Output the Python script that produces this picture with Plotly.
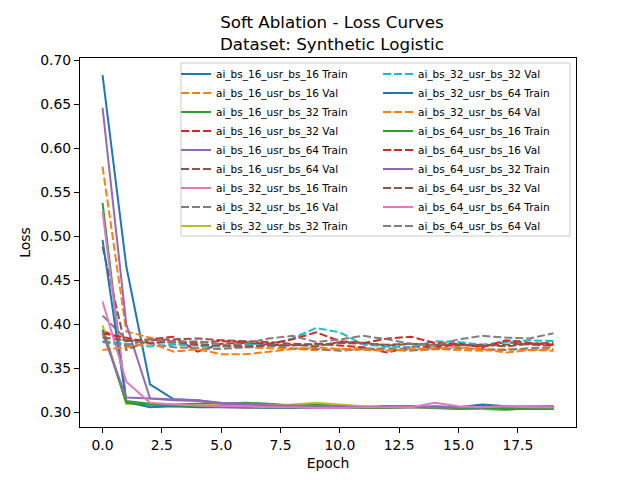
import plotly.graph_objects as go

epochs = list(range(20))

# series names, in the order they were plotted
names = [
    "ai_bs_16_usr_bs_16 Train", "ai_bs_16_usr_bs_16 Val",
    "ai_bs_16_usr_bs_32 Train", "ai_bs_16_usr_bs_32 Val",
    "ai_bs_16_usr_bs_64 Train", "ai_bs_16_usr_bs_64 Val",
    "ai_bs_32_usr_bs_16 Train", "ai_bs_32_usr_bs_16 Val",
    "ai_bs_32_usr_bs_32 Train", "ai_bs_32_usr_bs_32 Val",
    "ai_bs_32_usr_bs_64 Train", "ai_bs_32_usr_bs_64 Val",
    "ai_bs_64_usr_bs_16 Train", "ai_bs_64_usr_bs_16 Val",
    "ai_bs_64_usr_bs_32 Train", "ai_bs_64_usr_bs_32 Val",
    "ai_bs_64_usr_bs_64 Train", "ai_bs_64_usr_bs_64 Val",
]

train_16_16 = [0.683, 0.466, 0.332, 0.315, 0.314, 0.310, 0.309, 0.308, 0.307, 0.306, 0.306, 0.305, 0.307, 0.306, 0.307, 0.306, 0.309, 0.307, 0.305, 0.306]
val_16_16 = [0.579, 0.392, 0.385, 0.378, 0.376, 0.375, 0.374, 0.373, 0.372, 0.371, 0.372, 0.373, 0.371, 0.370, 0.372, 0.371, 0.370, 0.372, 0.371, 0.372]
train_16_32 = [0.538, 0.313, 0.310, 0.309, 0.310, 0.310, 0.311, 0.310, 0.308, 0.309, 0.308, 0.307, 0.306, 0.306, 0.305, 0.304, 0.304, 0.303, 0.305, 0.304]
val_16_32 = [0.393, 0.381, 0.383, 0.386, 0.369, 0.378, 0.379, 0.377, 0.376, 0.378, 0.376, 0.374, 0.368, 0.375, 0.374, 0.377, 0.375, 0.380, 0.377, 0.376]
train_16_64 = [0.646, 0.400, 0.316, 0.315, 0.314, 0.311, 0.310, 0.309, 0.308, 0.307, 0.307, 0.306, 0.306, 0.307, 0.306, 0.305, 0.306, 0.305, 0.306, 0.307]
val_16_64 = [0.488, 0.371, 0.382, 0.383, 0.384, 0.382, 0.381, 0.380, 0.378, 0.377, 0.379, 0.378, 0.377, 0.378, 0.376, 0.378, 0.376, 0.377, 0.378, 0.377]
train_32_16 = [0.528, 0.312, 0.308, 0.307, 0.307, 0.306, 0.305, 0.306, 0.307, 0.306, 0.305, 0.306, 0.305, 0.306, 0.306, 0.305, 0.304, 0.305, 0.306, 0.305]
val_32_16 = [0.410, 0.383, 0.378, 0.374, 0.373, 0.372, 0.374, 0.376, 0.373, 0.372, 0.370, 0.372, 0.373, 0.371, 0.372, 0.373, 0.372, 0.371, 0.373, 0.374]
train_32_32 = [0.399, 0.310, 0.309, 0.308, 0.308, 0.309, 0.308, 0.308, 0.309, 0.311, 0.309, 0.307, 0.306, 0.307, 0.306, 0.305, 0.305, 0.304, 0.305, 0.305]
val_32_32 = [0.381, 0.378, 0.375, 0.377, 0.376, 0.375, 0.377, 0.376, 0.384, 0.396, 0.391, 0.377, 0.375, 0.374, 0.381, 0.380, 0.377, 0.380, 0.382, 0.381]
train_32_64 = [0.496, 0.312, 0.306, 0.307, 0.306, 0.306, 0.306, 0.305, 0.305, 0.305, 0.306, 0.306, 0.307, 0.307, 0.306, 0.306, 0.307, 0.306, 0.305, 0.306]
val_32_64 = [0.371, 0.374, 0.379, 0.369, 0.372, 0.366, 0.366, 0.369, 0.372, 0.374, 0.372, 0.371, 0.370, 0.372, 0.373, 0.374, 0.372, 0.368, 0.371, 0.370]
train_64_16 = [0.394, 0.311, 0.309, 0.308, 0.307, 0.307, 0.306, 0.306, 0.306, 0.305, 0.305, 0.305, 0.305, 0.306, 0.306, 0.305, 0.305, 0.304, 0.304, 0.304]
val_64_16 = [0.390, 0.385, 0.379, 0.381, 0.379, 0.381, 0.380, 0.378, 0.383, 0.391, 0.381, 0.379, 0.384, 0.386, 0.379, 0.378, 0.374, 0.382, 0.379, 0.377]
train_64_32 = [0.390, 0.317, 0.316, 0.314, 0.313, 0.310, 0.309, 0.308, 0.308, 0.307, 0.307, 0.306, 0.307, 0.307, 0.306, 0.306, 0.306, 0.307, 0.307, 0.307]
val_64_32 = [0.385, 0.382, 0.379, 0.380, 0.377, 0.376, 0.375, 0.376, 0.377, 0.375, 0.380, 0.379, 0.376, 0.378, 0.377, 0.376, 0.377, 0.375, 0.378, 0.379]
train_64_64 = [0.426, 0.335, 0.311, 0.309, 0.308, 0.307, 0.307, 0.306, 0.306, 0.305, 0.305, 0.306, 0.306, 0.306, 0.311, 0.307, 0.306, 0.307, 0.306, 0.306]
val_64_64 = [0.380, 0.376, 0.383, 0.380, 0.381, 0.377, 0.378, 0.384, 0.387, 0.380, 0.383, 0.387, 0.383, 0.378, 0.376, 0.383, 0.387, 0.385, 0.384, 0.390]

series = [
    train_16_16, val_16_16, train_16_32, val_16_32, train_16_64, val_16_64,
    train_32_16, val_32_16, train_32_32, val_32_32, train_32_64, val_32_64,
    train_64_16, val_64_16, train_64_32, val_64_32, train_64_64, val_64_64,
]

tab10 = ["#1f77b4", "#ff7f0e", "#2ca02c", "#d62728", "#9467bd",
         "#8c564b", "#e377c2", "#7f7f7f", "#bcbd22", "#17becf"]

fig = go.Figure()
for i, (name, ys) in enumerate(zip(names, series)):
    # first 9 entries in the left legend column, the rest in the right one
    fig.add_trace(go.Scatter(
        x=epochs, y=ys, name=name, mode="lines",
        line=dict(color=tab10[i % 10], width=2,
                  dash="8px,3px" if name.endswith("Val") else "solid"),
        legend="legend" if i < 9 else "legend2",
    ))

axis_common = dict(
    showline=True, linecolor="black", linewidth=1, mirror=True,
    ticks="outside", ticklen=5, tickcolor="black",
    showgrid=False, zeroline=False,
    tickfont=dict(size=13.9, color="black"),
    title_font=dict(size=13.9, color="black"),
)

leg_common = dict(yanchor="top", y=0.996, xanchor="left",
                  font=dict(size=10.5), bgcolor="rgba(0,0,0,0)", borderwidth=0,
                  tracegroupgap=0)

# page body has an 8px margin, so the figure is 8px smaller each way
fig.update_layout(
    width=632, height=472,
    margin=dict(l=72, r=64, t=50, b=53),
    paper_bgcolor="white", plot_bgcolor="white",
    font=dict(family="DejaVu Sans", color="black"),
    title=dict(text="Soft Ablation - Loss Curves<br>Dataset: Synthetic Logistic",
               x=0.5125, xanchor="center", y=0.9576, yanchor="top",
               font=dict(size=16.7, color="black")),
    xaxis=dict(title=dict(text="Epoch", standoff=6), range=[-0.95, 19.95],
               tickvals=[0, 2.5, 5, 7.5, 10, 12.5, 15, 17.5],
               ticktext=["0.0", "2.5", "5.0", "7.5", "10.0", "12.5", "15.0", "17.5"],
               **axis_common),
    yaxis=dict(title=dict(text="Loss", standoff=6), range=[0.2835, 0.7025],
               tickvals=[0.30, 0.35, 0.40, 0.45, 0.50, 0.55, 0.60, 0.65, 0.70],
               tickformat=".2f", **axis_common),
    legend=dict(x=0.1935, **leg_common),
    legend2=dict(x=0.6008, **leg_common),
    shapes=[dict(type="rect", xref="paper", yref="paper",
                 x0=0.2036, x1=0.9879, y0=0.5176, y1=0.9864,
                 fillcolor="rgba(255,255,255,0.8)", line=dict(color="#cccccc", width=1),
                 layer="above")],
)

fig.write_html("out.html")
